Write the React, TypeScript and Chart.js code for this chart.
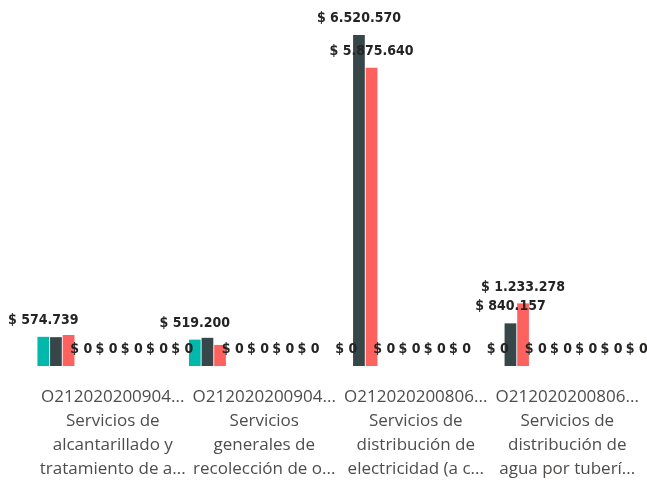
import React, { useEffect, useRef } from "react";
import { Chart, registerables } from "chart.js";

Chart.register(...registerables);

const categories: string[][] = [
  ["O212020200904...", "Servicios de", "alcantarillado y", "tratamiento de a..."],
  ["O212020200904...", "Servicios", "generales de", "recolección de o..."],
  ["O212020200806...", "Servicios de", "distribución de", "electricidad (a c..."],
  ["O212020200806...", "Servicios de", "distribución de", "agua por tuberí..."],
];

const series1 = [574739, 519200, 0, 0];
const series2 = [568000, 555000, 6520570, 840157];
const series3 = [611000, 415000, 5875640, 1233278];
const series4 = [0, 0, 0, 0];
const series5 = [0, 0, 0, 0];
const series6 = [0, 0, 0, 0];
const series7 = [0, 0, 0, 0];
const series8 = [0, 0, 0, 0];
const series9 = [0, 0, 0, 0];
const series10 = [0, 0, 0, 0];
const series11 = [0, 0, 0, 0];
const series12 = [0, 0, 0, 0];

const allSeries = [
  series1, series2, series3, series4, series5, series6,
  series7, series8, series9, series10, series11, series12,
];
const seriesNames = allSeries.map((_, i) => `Serie ${i + 1}`);
const colors = [
  "#01B8AA", "#374649", "#FD625E", "#F2C80F", "#5F6B6D", "#8AD4EB",
  "#FE9666", "#A66999", "#3599B8", "#DFBFBF", "#4AC5BB", "#5F6B6D",
];

function fmt(v: number): string {
  const s = Math.round(v).toString().replace(/\B(?=(\d{3})+(?!\d))/g, ".");
  return "$ " + s;
}

const labelPlugin = {
  id: "pbiLabels",
  afterDatasetsDraw(chart: any) {
    const ctx = chart.ctx;
    ctx.save();
    ctx.font = "bold 14px 'DejaVu Sans Condensed'";
    ctx.fillStyle = "#252423";
    ctx.textAlign = "center";
    ctx.textBaseline = "middle";
    const placed: { x1: number; x2: number; y1: number; y2: number }[] = [];
    const h = 13;
    chart.data.datasets.forEach((ds: any, di: number) => {
      const meta = chart.getDatasetMeta(di);
      meta.data.forEach((bar: any, i: number) => {
        const v = ds.data[i];
        const text = fmt(v);
        const w = ctx.measureText(text).width;
        const cy = bar.y - 16.5;
        const r = { x1: bar.x - w / 2, x2: bar.x + w / 2, y1: cy - h / 2, y2: cy + h / 2 };
        const hit = placed.some(
          (p) => r.x1 < p.x2 && r.x2 > p.x1 && r.y1 < p.y2 && r.y2 > p.y1
        );
        if (hit) return;
        placed.push(r);
        ctx.fillText(text, bar.x, cy);
      });
    });
    ctx.restore();
  },
};

export default function App() {
  const ref = useRef<HTMLCanvasElement | null>(null);
  useEffect(() => {
    if (!ref.current) return;
    const chart = new Chart(ref.current, {
      type: "bar",
      data: {
        labels: categories,
        datasets: allSeries.map((d, i) => ({
          label: seriesNames[i],
          data: d,
          backgroundColor: colors[i],
          borderWidth: 0,
          categoryPercentage: 1,
          barPercentage: 0.93,
        })),
      },
      options: {
        responsive: false,
        animation: false,
        layout: { padding: { left: 37, right: 4, top: 0, bottom: 0 } },
        plugins: {
          legend: { display: false },
          tooltip: { enabled: false },
        },
        scales: {
          x: {
            grid: { display: false, drawTicks: true, tickLength: 19 },
            border: { display: false },
            ticks: {
              autoSkip: false,
              maxRotation: 0,
              minRotation: 0,
              padding: 0,
              color: "#4F4D4B",
              font: { family: "'Open Sans'", size: 17, lineHeight: 24 / 17 },
            },
          },
          y: {
            display: false,
            min: 0,
            max: 7210000,
            grid: { display: false },
          },
        },
      },
      plugins: [labelPlugin],
    });
    return () => chart.destroy();
  }, []);
  return (
    <div style={{ position: "fixed", left: 0, top: 0, width: 647, height: 481, background: "#fff" }}>
      <canvas ref={ref} width={647} height={481} style={{ display: "block" }} />
    </div>
  );
}
